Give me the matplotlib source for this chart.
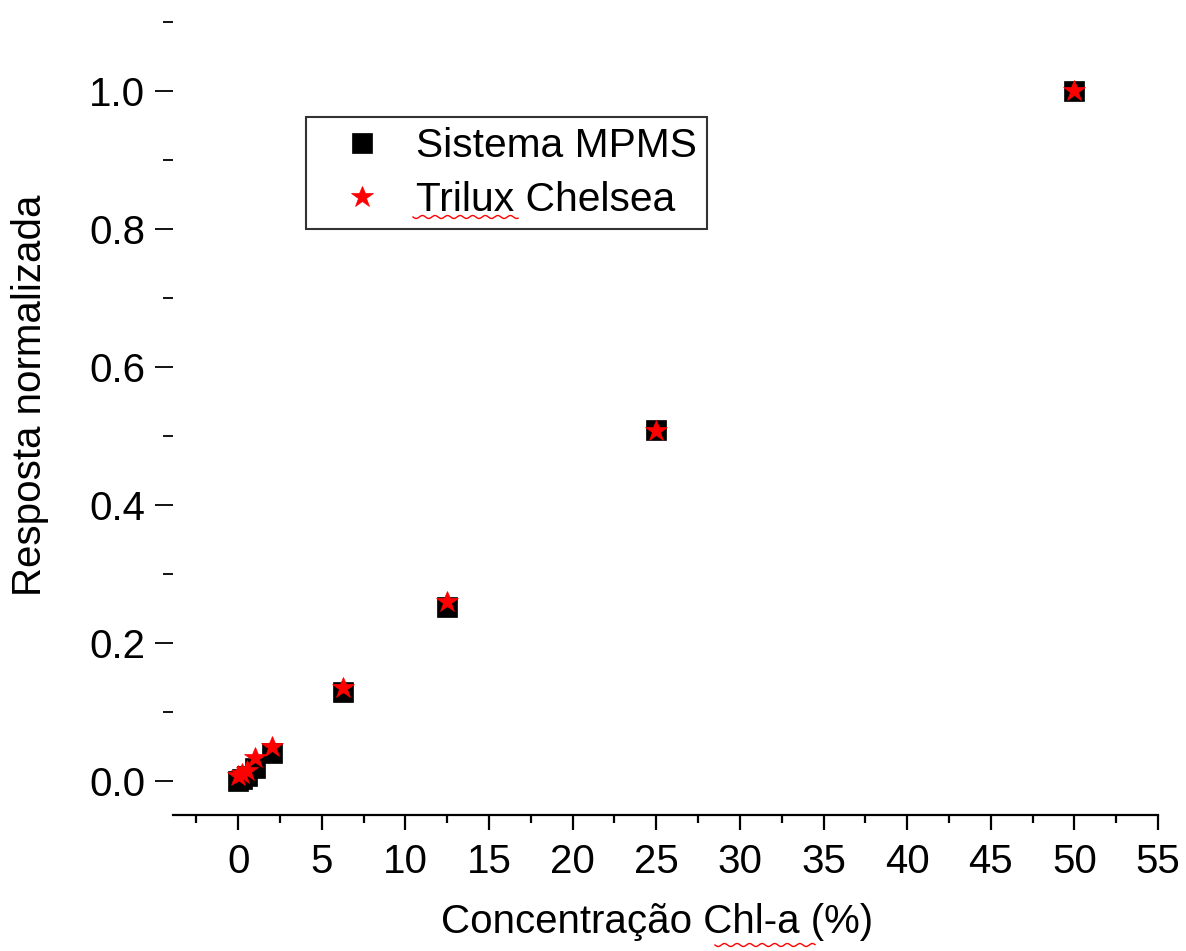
import numpy as np
import matplotlib.pyplot as plt
from matplotlib.ticker import MultipleLocator, FormatStrFormatter
from matplotlib.lines import Line2D

# dados
conc = [0, 0.25, 0.5, 1.0, 2.0, 6.25, 12.5, 25, 50]
mpms = [0.0, 0.002, 0.006, 0.018, 0.040, 0.128, 0.251, 0.509, 1.0]
trilux = [0.006, 0.010, 0.014, 0.033, 0.048, 0.134, 0.259, 0.507, 1.0]
series_names = ['Sistema MPMS', 'Trilux Chelsea']

plt.rcParams['font.family'] = ['Liberation Sans', 'DejaVu Sans']
FS = 29

W, H = 1186, 951
fig = plt.figure(figsize=(W / 100, H / 100), dpi=100)
ax = fig.add_axes([173 / W, 1 - 815 / H, (1158 - 173) / W, (815 - 22) / H])

ax.plot(conc, mpms, 's', color='black', markersize=14, mew=0.5, label=series_names[0])
ax.plot(conc, trilux, '*', color='red', markersize=16.5, mew=0.5, label=series_names[1])

ax.set_xlim(-3.9, 55)
ax.set_ylim(-0.05, 1.1)

for s in ['top', 'right', 'left']:
    ax.spines[s].set_visible(False)
ax.spines['bottom'].set_linewidth(1.6)

ax.xaxis.set_major_locator(MultipleLocator(5))
ax.xaxis.set_minor_locator(MultipleLocator(2.5))
ax.yaxis.set_major_locator(MultipleLocator(0.2))
ax.yaxis.set_minor_locator(MultipleLocator(0.1))
ax.yaxis.set_major_formatter(FormatStrFormatter('%.1f'))
ax.set_xticks(np.arange(0, 56, 5))

ax.tick_params(axis='x', which='major', length=11, width=1.6, direction='out', labelsize=FS, pad=9)
ax.tick_params(axis='x', which='minor', length=6, width=1.6, direction='out')
ax.tick_params(axis='y', which='major', length=13, width=1.3, direction='out', labelsize=FS, pad=7)
ax.tick_params(axis='y', which='minor', length=7, width=1.3, direction='out')

fig.text(657 / W, 1 - 933 / H, 'Concentração Chl-a (%)', fontsize=FS, ha='center', va='baseline')
fig.text(30 / W, 1 - 395 / H, 'Resposta normalizada', fontsize=FS, ha='center', va='center', rotation=90)

leg = ax.legend(loc='upper left', bbox_to_anchor=(306 / W, 1 - 117 / H), bbox_transform=fig.transFigure,
                frameon=True, fancybox=False, borderaxespad=0, borderpad=0.24,
                handlelength=2.25, handletextpad=0.22, labelspacing=0.4, numpoints=1,
                prop={'size': 29.3})
leg.get_frame().set_edgecolor('black')
leg.get_frame().set_linewidth(1.5)

# sublinhado ondulado do corretor ortográfico
def wavy(x0, x1, y):
    xs = np.linspace(x0, x1, 200)
    ys = y + 1.5 * np.sin((xs - x0) / 2.0)
    fig.add_artist(Line2D(xs / W, 1 - ys / H, color='red', lw=1.0, transform=fig.transFigure))

wavy(413, 518, 217)
wavy(715, 815, 945)

fig.savefig('out.png', dpi=100)
